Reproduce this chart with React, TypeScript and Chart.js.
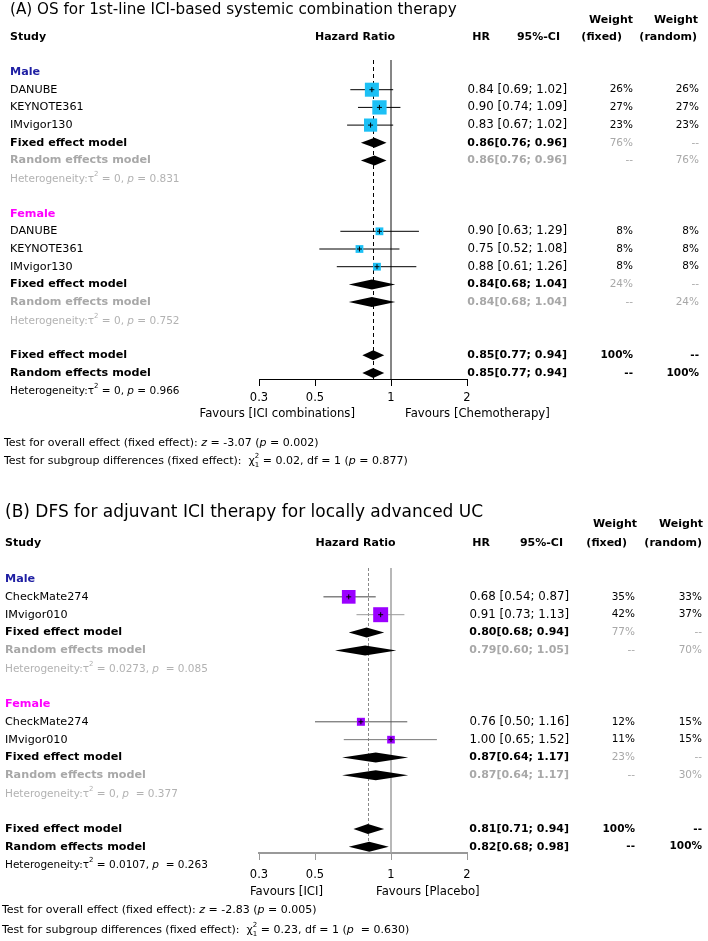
import React, { useEffect, useRef } from "react";
import { Chart, registerables } from "chart.js";

Chart.register(...registerables);

// ================= Shared axis =================
const xTickValues = [0.3, 0.5, 1, 2];
const xMin = 0.3;
const xMax = 2;

// ================= Panel A data =================
const aTitle = "(A) OS for 1st-line ICI-based systemic combination therapy";
const aGroupLabels = ["Male", "Female"];
const aStudyNames = ["DANUBE", "KEYNOTE361", "IMvigor130"];
const aMaleHR = [0.84, 0.9, 0.83];
const aMaleLower = [0.69, 0.74, 0.67];
const aMaleUpper = [1.02, 1.09, 1.02];
const aMaleWFixed = [26, 27, 23];
const aMaleWRandom = [26, 27, 23];
const aFemaleHR = [0.9, 0.75, 0.88];
const aFemaleLower = [0.63, 0.52, 0.61];
const aFemaleUpper = [1.29, 1.08, 1.26];
const aFemaleWFixed = [8, 8, 8];
const aFemaleWRandom = [8, 8, 8];
// model estimates [HR, lower, upper]
const aMaleFixed = [0.86, 0.76, 0.96];
const aMaleRandom = [0.86, 0.76, 0.96];
const aFemaleFixed = [0.84, 0.68, 1.04];
const aFemaleRandom = [0.84, 0.68, 1.04];
const aOverallFixed = [0.85, 0.77, 0.94];
const aOverallRandom = [0.85, 0.77, 0.94];
// subgroup model weights [fixed, random]
const aMaleModelWeight = [76, 76];
const aFemaleModelWeight = [24, 24];
// heterogeneity [tau2, p]
const aMaleHet = [0, 0.831];
const aFemaleHet = [0, 0.752];
const aOverallHet = [0, 0.966];
const aTestOverall = [-3.07, 0.002]; // z, p
const aTestSubgroup = [0.02, 1, 0.877]; // chi2, df, p
const aFavours = ["Favours [ICI combinations]", "Favours [Chemotherapy]"];

// ================= Panel B data =================
const bTitle = "(B) DFS for adjuvant ICI therapy for locally advanced UC";
const bGroupLabels = ["Male", "Female"];
const bStudyNames = ["CheckMate274", "IMvigor010"];
const bMaleHR = [0.68, 0.91];
const bMaleLower = [0.54, 0.73];
const bMaleUpper = [0.87, 1.13];
const bMaleWFixed = [35, 42];
const bMaleWRandom = [33, 37];
const bFemaleHR = [0.76, 1.0];
const bFemaleLower = [0.5, 0.65];
const bFemaleUpper = [1.16, 1.52];
const bFemaleWFixed = [12, 11];
const bFemaleWRandom = [15, 15];
const bMaleFixed = [0.8, 0.68, 0.94];
const bMaleRandom = [0.79, 0.6, 1.05];
const bFemaleFixed = [0.87, 0.64, 1.17];
const bFemaleRandom = [0.87, 0.64, 1.17];
const bOverallFixed = [0.81, 0.71, 0.94];
const bOverallRandom = [0.82, 0.68, 0.98];
const bMaleModelWeight = [77, 70];
const bFemaleModelWeight = [23, 30];
const bMaleHet = [0.0273, 0.085];
const bFemaleHet = [0, 0.377];
const bOverallHet = [0.0107, 0.263];
const bTestOverall = [-2.83, 0.005];
const bTestSubgroup = [0.23, 1, 0.63];
const bFavours = ["Favours [ICI]", "Favours [Placebo]"];

// ================= Types & assembly =================
interface Group {
  label: string;
  names: string[];
  hr: number[];
  lo: number[];
  hi: number[];
  wf: number[];
  wr: number[];
  fixed: number[];
  random: number[];
  mw: number[];
  het: number[];
}
interface PanelData {
  title: string;
  groups: Group[];
  overallFixed: number[];
  overallRandom: number[];
  overallHet: number[];
  testOverall: number[];
  testSubgroup: number[];
  favours: string[];
}

const panelAData: PanelData = {
  title: aTitle,
  groups: [
    { label: aGroupLabels[0], names: aStudyNames, hr: aMaleHR, lo: aMaleLower, hi: aMaleUpper, wf: aMaleWFixed, wr: aMaleWRandom, fixed: aMaleFixed, random: aMaleRandom, mw: aMaleModelWeight, het: aMaleHet },
    { label: aGroupLabels[1], names: aStudyNames, hr: aFemaleHR, lo: aFemaleLower, hi: aFemaleUpper, wf: aFemaleWFixed, wr: aFemaleWRandom, fixed: aFemaleFixed, random: aFemaleRandom, mw: aFemaleModelWeight, het: aFemaleHet },
  ],
  overallFixed: aOverallFixed,
  overallRandom: aOverallRandom,
  overallHet: aOverallHet,
  testOverall: aTestOverall,
  testSubgroup: aTestSubgroup,
  favours: aFavours,
};

const panelBData: PanelData = {
  title: bTitle,
  groups: [
    { label: bGroupLabels[0], names: bStudyNames, hr: bMaleHR, lo: bMaleLower, hi: bMaleUpper, wf: bMaleWFixed, wr: bMaleWRandom, fixed: bMaleFixed, random: bMaleRandom, mw: bMaleModelWeight, het: bMaleHet },
    { label: bGroupLabels[1], names: bStudyNames, hr: bFemaleHR, lo: bFemaleLower, hi: bFemaleUpper, wf: bFemaleWFixed, wr: bFemaleWRandom, fixed: bFemaleFixed, random: bFemaleRandom, mw: bFemaleModelWeight, het: bFemaleHet },
  ],
  overallFixed: bOverallFixed,
  overallRandom: bOverallRandom,
  overallHet: bOverallHet,
  testOverall: bTestOverall,
  testSubgroup: bTestSubgroup,
  favours: bFavours,
};

// ================= Layout / style =================
interface Layout {
  height: number; rowTop: number; rowStep: number; plotTop: number; axisY: number;
  plotLeft: number; plotRight: number;
  studyX: number; hrRight: number; wfRight: number; wrRight: number;
  titleX: number; titleY: number; titleSize: number;
  headerY: number; weightY: number;
  hdrHR: number; hdrCI: number; hdrWF1: number; hdrWF2: number; hdrWR1: number; hdrWR2: number; hdrHZ: number;
  favY: number; favLeftRight: number; favRightLeft: number;
  testX: number; testY1: number; testY2: number;
  tickPad: number;
  squareColor: string; squareScale: number; ciColors: string[];
  refColor: string; refWidth: number; dashColor: string; dash: number[];
  axisColor: string; axisWidth: number; pGap: string;
}

const layoutA: Layout = {
  height: 470, rowTop: 72, rowStep: 17.7, plotTop: 60, axisY: 379,
  plotLeft: 259, plotRight: 467,
  studyX: 10, hrRight: 567, wfRight: 633, wrRight: 699,
  titleX: 10, titleY: 10, titleSize: 15.2,
  headerY: 37, weightY: 20,
  hdrHR: 490, hdrCI: 560, hdrWF1: 633, hdrWF2: 622, hdrWR1: 698, hdrWR2: 697, hdrHZ: 355,
  favY: 414, favLeftRight: 355, favRightLeft: 405,
  testX: 4, testY1: 443, testY2: 461,
  tickPad: 5,
  squareColor: "#1cc0f5", squareScale: 2.75, ciColors: ["#000000"],
  refColor: "#444444", refWidth: 1.3, dashColor: "#000000", dash: [4, 3],
  axisColor: "#000000", axisWidth: 1, pGap: " ",
};

const layoutB: Layout = {
  height: 471, rowTop: 109, rowStep: 17.85, plotTop: 98, axisY: 383,
  plotLeft: 259, plotRight: 467,
  studyX: 5, hrRight: 569, wfRight: 635, wrRight: 702,
  titleX: 5, titleY: 43, titleSize: 17,
  headerY: 73, weightY: 54,
  hdrHR: 490, hdrCI: 563, hdrWF1: 637, hdrWF2: 627, hdrWR1: 703, hdrWR2: 702, hdrHZ: 355.5,
  favY: 422, favLeftRight: 323, favRightLeft: 376,
  testX: 2, testY1: 440, testY2: 460,
  tickPad: 8,
  squareColor: "#9b00ff", squareScale: 2.31, ciColors: ["#444444", "#9a9a9a", "#555555", "#777777"],
  refColor: "#a0a0a0", refWidth: 1.5, dashColor: "#888888", dash: [3, 2],
  axisColor: "#999999", axisWidth: 2, pGap: "  ",
};

const GROUP_COLORS = ["#1f1fa3", "#ff00ff"];
const GRAY = "#a8a8a8";
const GRAY_HET = "#b2b2b2";
const FAM = '"DejaVu Sans", "Liberation Sans", sans-serif';
const fnt = (size: number, style = "") => `${style} ${size}px ${FAM}`.trim();

// ================= Rows =================
type RowKind = "group" | "study" | "fixed" | "random" | "het" | "blank" | "ofixed" | "orandom" | "ohet";
interface Row { kind: RowKind; g: number; i: number }

function buildRows(p: PanelData): Row[] {
  const rows: Row[] = [];
  p.groups.forEach((g, gi) => {
    rows.push({ kind: "group", g: gi, i: -1 });
    g.names.forEach((_, i) => rows.push({ kind: "study", g: gi, i }));
    rows.push({ kind: "fixed", g: gi, i: -1 });
    rows.push({ kind: "random", g: gi, i: -1 });
    rows.push({ kind: "het", g: gi, i: -1 });
    rows.push({ kind: "blank", g: gi, i: -1 });
  });
  rows.push({ kind: "ofixed", g: -1, i: -1 });
  rows.push({ kind: "orandom", g: -1, i: -1 });
  rows.push({ kind: "ohet", g: -1, i: -1 });
  return rows;
}

// ================= Text helpers =================
interface Part { t: string; font: string; dy?: number; sub?: string; subFont?: string; subDy?: number }

function drawParts(ctx: CanvasRenderingContext2D, parts: Part[], x: number, y: number, align: "left" | "right" | "center", color: string) {
  const widths = parts.map((p) => {
    ctx.font = p.font;
    let w = ctx.measureText(p.t).width;
    if (p.sub) {
      ctx.font = p.subFont || p.font;
      w = Math.max(w, ctx.measureText(p.sub).width);
    }
    return w;
  });
  const total = widths.reduce((a, b) => a + b, 0);
  let cx = align === "left" ? x : align === "right" ? x - total : x - total / 2;
  ctx.textAlign = "left";
  ctx.fillStyle = color;
  parts.forEach((p, k) => {
    ctx.font = p.font;
    ctx.fillText(p.t, cx, y + (p.dy || 0));
    if (p.sub) {
      ctx.font = p.subFont || p.font;
      ctx.fillText(p.sub, cx, y + (p.subDy || 0));
    }
    cx += widths[k];
  });
}

function txt(ctx: CanvasRenderingContext2D, s: string, x: number, y: number, align: CanvasTextAlign, font: string, color: string) {
  ctx.font = font;
  ctx.textAlign = align;
  ctx.fillStyle = color;
  ctx.fillText(s, x, y);
}

const f2 = (v: number) => v.toFixed(2);
const studyCI = (h: number, l: number, u: number) => `${f2(h)} [${f2(l)}; ${f2(u)}]`;
const modelCI = (m: number[]) => `${f2(m[0])}[${f2(m[1])}; ${f2(m[2])}]`;

function hetParts(het: number[], gap: string): Part[] {
  const s = 10.5;
  return [
    { t: "Heterogeneity:τ", font: fnt(s) },
    { t: "2", font: fnt(7), dy: -5 },
    { t: ` = ${String(het[0])}, `, font: fnt(s) },
    { t: "p", font: fnt(s, "italic") },
    { t: `${gap}= ${het[1].toFixed(3)}`, font: fnt(s) },
  ];
}

// ================= Chart =================
function makeConfig(p: PanelData, L: Layout): any {
  const rows = buildRows(p);
  const yMin = (L.plotTop - L.rowTop) / L.rowStep;
  const yMax = (L.axisY - L.rowTop) / L.rowStep;

  const ciSets: any[] = [];
  const sqPts: { x: number; y: number }[] = [];
  const sqRad: number[] = [];
  rows.forEach((r, ri) => {
    if (r.kind !== "study") return;
    const g = p.groups[r.g];
    ciSets.push({
      data: [{ x: g.lo[r.i], y: ri }, { x: g.hi[r.i], y: ri }],
      showLine: true,
      borderColor: L.ciColors[ciSets.length % L.ciColors.length],
      borderWidth: 1,
      pointRadius: 0,
      order: 3,
      clip: false,
    });
    sqPts.push({ x: g.hr[r.i], y: ri });
    sqRad.push((L.squareScale * Math.sqrt(g.wf[r.i])) / Math.SQRT2);
  });

  const datasets = [
    ...ciSets,
    {
      data: sqPts,
      pointStyle: "rect",
      pointRadius: sqRad,
      backgroundColor: L.squareColor,
      borderWidth: 0,
      order: 2,
      clip: false,
    },
    {
      data: sqPts,
      pointStyle: "cross",
      pointRadius: 2.5,
      borderColor: "#000000",
      borderWidth: 1,
      order: 1,
      clip: false,
    },
  ];

  const diamonds: { row: number; m: number[] }[] = [];
  rows.forEach((r, ri) => {
    if (r.kind === "fixed") diamonds.push({ row: ri, m: p.groups[r.g].fixed });
    if (r.kind === "random") diamonds.push({ row: ri, m: p.groups[r.g].random });
    if (r.kind === "ofixed") diamonds.push({ row: ri, m: p.overallFixed });
    if (r.kind === "orandom") diamonds.push({ row: ri, m: p.overallRandom });
  });

  const plugin = {
    id: "forestPanel",
    beforeDatasetsDraw(chart: any) {
      const { ctx, chartArea: a } = chart;
      const x = chart.scales.x;
      ctx.save();
      const x1 = x.getPixelForValue(1);
      ctx.strokeStyle = L.refColor;
      ctx.lineWidth = L.refWidth;
      ctx.beginPath();
      ctx.moveTo(x1, a.top);
      ctx.lineTo(x1, a.bottom);
      ctx.stroke();
      const xd = x.getPixelForValue(p.overallFixed[0]);
      ctx.strokeStyle = L.dashColor;
      ctx.lineWidth = 1;
      ctx.setLineDash(L.dash);
      ctx.beginPath();
      ctx.moveTo(Math.round(xd) + 0.5, a.top);
      ctx.lineTo(Math.round(xd) + 0.5, a.bottom);
      ctx.stroke();
      ctx.restore();
    },
    afterDatasetsDraw(chart: any) {
      const { ctx } = chart;
      const x = chart.scales.x;
      const y = chart.scales.y;
      ctx.save();
      ctx.fillStyle = "#000000";
      diamonds.forEach((d) => {
        const py = y.getPixelForValue(d.row);
        const xe = x.getPixelForValue(d.m[0]);
        const xl = x.getPixelForValue(d.m[1]);
        const xh = x.getPixelForValue(d.m[2]);
        const h = 5;
        ctx.beginPath();
        ctx.moveTo(xl, py);
        ctx.lineTo(xe, py - h);
        ctx.lineTo(xh, py);
        ctx.lineTo(xe, py + h);
        ctx.closePath();
        ctx.fill();
      });
      ctx.restore();
    },
    afterDraw(chart: any) {
      const { ctx } = chart;
      const y = chart.scales.y;
      ctx.save();
      ctx.textBaseline = "middle";
      const B = (s: number) => fnt(s, "bold");
      // title
      txt(ctx, p.title, L.titleX, L.titleY, "left", fnt(L.titleSize), "#000");
      // headers
      txt(ctx, "Study", L.studyX, L.headerY, "left", B(11), "#000");
      txt(ctx, "Hazard Ratio", L.hdrHZ, L.headerY, "center", B(11), "#000");
      txt(ctx, "HR", L.hdrHR, L.headerY, "right", B(11), "#000");
      txt(ctx, "95%-CI", L.hdrCI, L.headerY, "right", B(11), "#000");
      txt(ctx, "Weight", L.hdrWF1, L.weightY, "right", B(11), "#000");
      txt(ctx, "(fixed)", L.hdrWF2, L.headerY, "right", B(11), "#000");
      txt(ctx, "Weight", L.hdrWR1, L.weightY, "right", B(11), "#000");
      txt(ctx, "(random)", L.hdrWR2, L.headerY, "right", B(11), "#000");

      const nameF = fnt(11.2);
      const numF = fnt(11.8);
      const wF = fnt(10.5);
      rows.forEach((r, ri) => {
        const py = y.getPixelForValue(ri);
        const g = r.g >= 0 ? p.groups[r.g] : null;
        switch (r.kind) {
          case "group":
            txt(ctx, g!.label, L.studyX, py, "left", B(11.2), GROUP_COLORS[r.g]);
            break;
          case "study":
            txt(ctx, g!.names[r.i], L.studyX, py, "left", nameF, "#000");
            txt(ctx, studyCI(g!.hr[r.i], g!.lo[r.i], g!.hi[r.i]), L.hrRight, py, "right", numF, "#000");
            txt(ctx, `${g!.wf[r.i]}%`, L.wfRight, py, "right", wF, "#000");
            txt(ctx, `${g!.wr[r.i]}%`, L.wrRight, py, "right", wF, "#000");
            break;
          case "fixed":
            txt(ctx, "Fixed effect model", L.studyX, py, "left", B(11.2), "#000");
            txt(ctx, modelCI(g!.fixed), L.hrRight, py, "right", B(11), "#000");
            txt(ctx, `${g!.mw[0]}%`, L.wfRight, py, "right", wF, GRAY);
            txt(ctx, "--", L.wrRight, py, "right", wF, GRAY);
            break;
          case "random":
            txt(ctx, "Random effects model", L.studyX, py, "left", B(11.2), GRAY);
            txt(ctx, modelCI(g!.random), L.hrRight, py, "right", B(11), GRAY);
            txt(ctx, "--", L.wfRight, py, "right", wF, GRAY);
            txt(ctx, `${g!.mw[1]}%`, L.wrRight, py, "right", wF, GRAY);
            break;
          case "het":
            drawParts(ctx, hetParts(g!.het, L.pGap), L.studyX, py + 1, "left", GRAY_HET);
            break;
          case "ofixed":
            txt(ctx, "Fixed effect model", L.studyX, py, "left", B(11.2), "#000");
            txt(ctx, modelCI(p.overallFixed), L.hrRight, py, "right", B(11), "#000");
            txt(ctx, "100%", L.wfRight, py, "right", B(10.5), "#000");
            txt(ctx, "--", L.wrRight, py, "right", B(10.5), "#000");
            break;
          case "orandom":
            txt(ctx, "Random effects model", L.studyX, py, "left", B(11.2), "#000");
            txt(ctx, modelCI(p.overallRandom), L.hrRight, py, "right", B(11), "#000");
            txt(ctx, "--", L.wfRight, py, "right", B(10.5), "#000");
            txt(ctx, "100%", L.wrRight, py, "right", B(10.5), "#000");
            break;
          case "ohet":
            drawParts(ctx, hetParts(p.overallHet, L.pGap), L.studyX, py + 1, "left", "#000");
            break;
        }
      });

      // favours
      txt(ctx, p.favours[0], L.favLeftRight, L.favY, "right", fnt(11.7), "#000");
      txt(ctx, p.favours[1], L.favRightLeft, L.favY, "left", fnt(11.7), "#000");

      // tests
      const tf = fnt(11);
      const ti = fnt(11, "italic");
      drawParts(
        ctx,
        [
          { t: "Test for overall effect (fixed effect): ", font: tf },
          { t: "z", font: ti },
          { t: ` = ${p.testOverall[0].toFixed(2)} (`, font: tf },
          { t: "p", font: ti },
          { t: ` = ${p.testOverall[1].toFixed(3)})`, font: tf },
        ],
        L.testX, L.testY1, "left", "#000"
      );
      drawParts(
        ctx,
        [
          { t: "Test for subgroup differences (fixed effect):  χ", font: tf },
          { t: "2", font: fnt(7), dy: -5, sub: "1", subFont: fnt(7), subDy: 4 },
          { t: ` = ${p.testSubgroup[0].toFixed(2)}, df = ${p.testSubgroup[1]} (`, font: tf },
          { t: "p", font: ti },
          { t: `${L.pGap}= ${p.testSubgroup[2].toFixed(3)})`, font: tf },
        ],
        L.testX, L.testY2, "left", "#000"
      );
      ctx.restore();
    },
  };

  return {
    type: "scatter",
    data: { datasets },
    options: {
      responsive: false,
      animation: false,
      devicePixelRatio: 1,
      events: [],
      layout: {
        padding: {
          left: L.plotLeft,
          right: 708 - L.plotRight,
          top: L.plotTop,
          bottom: L.height - L.axisY - 40,
        },
      },
      plugins: {
        legend: { display: false },
        tooltip: { enabled: false },
        title: { display: false },
      },
      scales: {
        x: {
          type: "logarithmic",
          min: xMin,
          max: xMax,
          bounds: "data",
          position: "bottom",
          afterBuildTicks: (s: any) => {
            s.ticks = xTickValues.map((v) => ({ value: v }));
          },
          afterFit: (s: any) => {
            s.height = 40;
          },
          ticks: {
            callback: (v: any) => String(v),
            autoSkip: false,
            maxRotation: 0,
            minRotation: 0,
            color: "#000000",
            padding: L.tickPad,
            font: { family: FAM, size: 11.5 },
          },
          grid: {
            display: true,
            drawOnChartArea: false,
            drawTicks: true,
            tickLength: 7,
            tickColor: L.axisColor,
            tickWidth: 1,
          },
          border: { display: true, color: L.axisColor, width: L.axisWidth },
        },
        y: {
          type: "linear",
          display: false,
          reverse: true,
          min: yMin,
          max: yMax,
        },
      },
    },
    plugins: [plugin],
  };
}

function ForestPanel({ data, layout }: { data: PanelData; layout: Layout }) {
  const ref = useRef<HTMLCanvasElement>(null);
  useEffect(() => {
    const chart = new Chart(ref.current as HTMLCanvasElement, makeConfig(data, layout));
    return () => chart.destroy();
  }, [data, layout]);
  return (
    <canvas
      ref={ref}
      width={708}
      height={layout.height}
      style={{ display: "block", width: 708, height: layout.height }}
    />
  );
}

export default function App() {
  return (
    <div style={{ position: "absolute", left: 0, top: 0, width: 708, height: 941, background: "#ffffff" }}>
      <ForestPanel data={panelAData} layout={layoutA} />
      <ForestPanel data={panelBData} layout={layoutB} />
    </div>
  );
}
